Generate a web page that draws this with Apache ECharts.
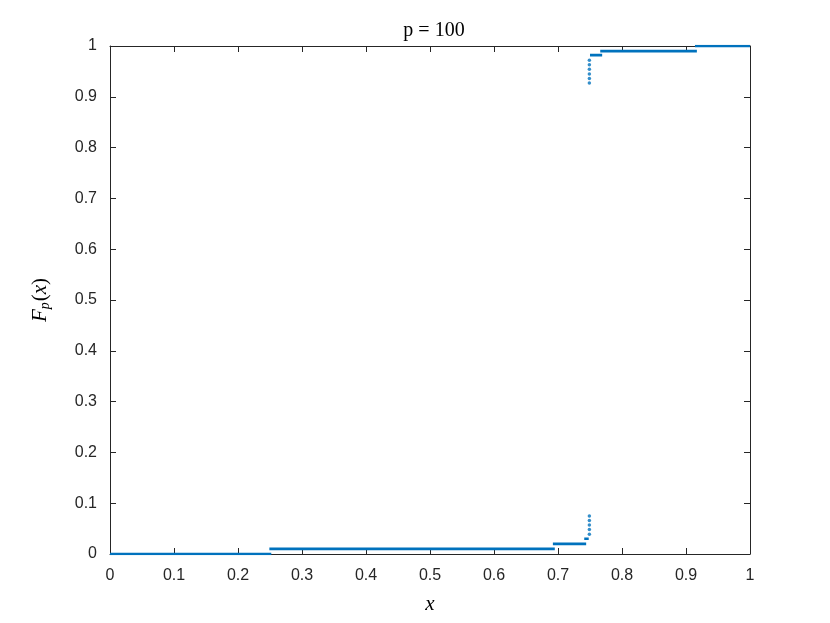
<!DOCTYPE html>
<html>
<head>
<meta charset="utf-8">
<script src="https://cdn.jsdelivr.net/npm/echarts@6/dist/echarts.min.js"></script>
<style>html,body{margin:0;padding:0;background:#fff;}#c{width:830px;height:623px;}</style>
</head>
<body>
<div id="c"></div>
<script>
// Horizontal steps of the CDF
const stepLevels = [0, 0.01, 0.02, 0.03, 0.982, 0.99, 1.0];
const stepStarts = [0, 0.249, 0.692, 0.741, 0.750, 0.766, 0.914];
const stepEnds   = [0.252, 0.695, 0.744, 0.748, 0.769, 0.917, 1.0];
// Isolated points near x = 0.75
const lowJumpX  = [0.749, 0.749, 0.749, 0.749, 0.749];
const lowJumpY  = [0.039, 0.048, 0.057, 0.066, 0.075];
const highJumpX = [0.749, 0.749, 0.749, 0.749, 0.749, 0.749];
const highJumpY = [0.927, 0.936, 0.945, 0.954, 0.963, 0.972];
const xTicks = [0, 0.1, 0.2, 0.3, 0.4, 0.5, 0.6, 0.7, 0.8, 0.9, 1];
const yTicks = [0, 0.1, 0.2, 0.3, 0.4, 0.5, 0.6, 0.7, 0.8, 0.9, 1];

const color = '#0072BD';
const axisColor = '#262626';
const serif = 'Liberation Serif, DejaVu Serif, serif';
const series = [];
stepLevels.forEach((lv, i) => {
  series.push({
    type: 'line', xAxisIndex: 0, yAxisIndex: 0,
    data: [[stepStarts[i], lv], [stepEnds[i], lv]],
    showSymbol: false, lineStyle: {color: color, width: 2.6}, silent: true, z: 3
  });
});
series.push({
  type: 'scatter', xAxisIndex: 0, yAxisIndex: 0,
  data: lowJumpX.map((x, i) => [x, lowJumpY[i]]).concat(highJumpX.map((x, i) => [x, highJumpY[i]])),
  symbol: 'circle', symbolSize: 3.5, itemStyle: {color: color}, silent: true, z: 3
});

const tickFont = {fontFamily: 'Liberation Sans, Arial, sans-serif', fontSize: 16, color: axisColor};
function fmt(v){ return Number.isInteger(v) ? String(v) : String(+v.toFixed(1)); }

const chart = echarts.init(document.getElementById('c'), null, {renderer: 'canvas'});
chart.setOption({
  animation: false,
  backgroundColor: '#fff',
  title: {
    text: 'p = 100', left: 429, top: 16, textAlign: 'center',
    textStyle: {fontFamily: serif, fontSize: 20, fontWeight: 'normal', color: '#000'}
  },
  grid: {left: 110, right: 80, top: 46, bottom: 69, containLabel: false},
  xAxis: [
    {type: 'value', min: 0, max: 1, interval: 0.1, position: 'bottom',
     axisLine: {show: true, onZero: false, lineStyle: {color: axisColor, width: 1}},
     axisTick: {show: true, inside: true, length: 6, lineStyle: {color: axisColor}},
     axisLabel: Object.assign({margin: 14, formatter: fmt}, tickFont),
     splitLine: {show: false},
     name: 'x', nameLocation: 'middle', nameGap: 40,
     nameTextStyle: {fontFamily: serif, fontStyle: 'italic', fontSize: 21, color: '#000'}},
    {type: 'value', min: 0, max: 1, interval: 0.1, position: 'top',
     axisLine: {show: true, onZero: false, lineStyle: {color: axisColor, width: 1}},
     axisTick: {show: true, inside: true, length: 6, lineStyle: {color: axisColor}},
     axisLabel: {show: false}, splitLine: {show: false}}
  ],
  yAxis: [
    {type: 'value', min: 0, max: 1, interval: 0.1, position: 'left',
     axisLine: {show: true, onZero: false, lineStyle: {color: axisColor, width: 1}},
     axisTick: {show: true, inside: true, length: 6, lineStyle: {color: axisColor}},
     axisLabel: Object.assign({margin: 13, formatter: fmt}, tickFont),
     splitLine: {show: false},
     name: '{i|F}{s|p}{n|(}{i|x}{n|)}', nameLocation: 'middle', nameGap: 58, nameRotate: 90,
     nameTextStyle: {
       color: '#000',
       rich: {
         i: {fontFamily: serif, fontStyle: 'italic', fontSize: 21, color: '#000'},
         n: {fontFamily: serif, fontSize: 21, color: '#000'},
         s: {fontFamily: serif, fontStyle: 'italic', fontSize: 14, color: '#000', verticalAlign: 'bottom', padding: [10, 1, 0, 0]}
       }
     }},
    {type: 'value', min: 0, max: 1, interval: 0.1, position: 'right',
     axisLine: {show: true, onZero: false, lineStyle: {color: axisColor, width: 1}},
     axisTick: {show: true, inside: true, length: 6, lineStyle: {color: axisColor}},
     axisLabel: {show: false}, splitLine: {show: false}}
  ],
  series: series
});
</script>
</body>
</html>
